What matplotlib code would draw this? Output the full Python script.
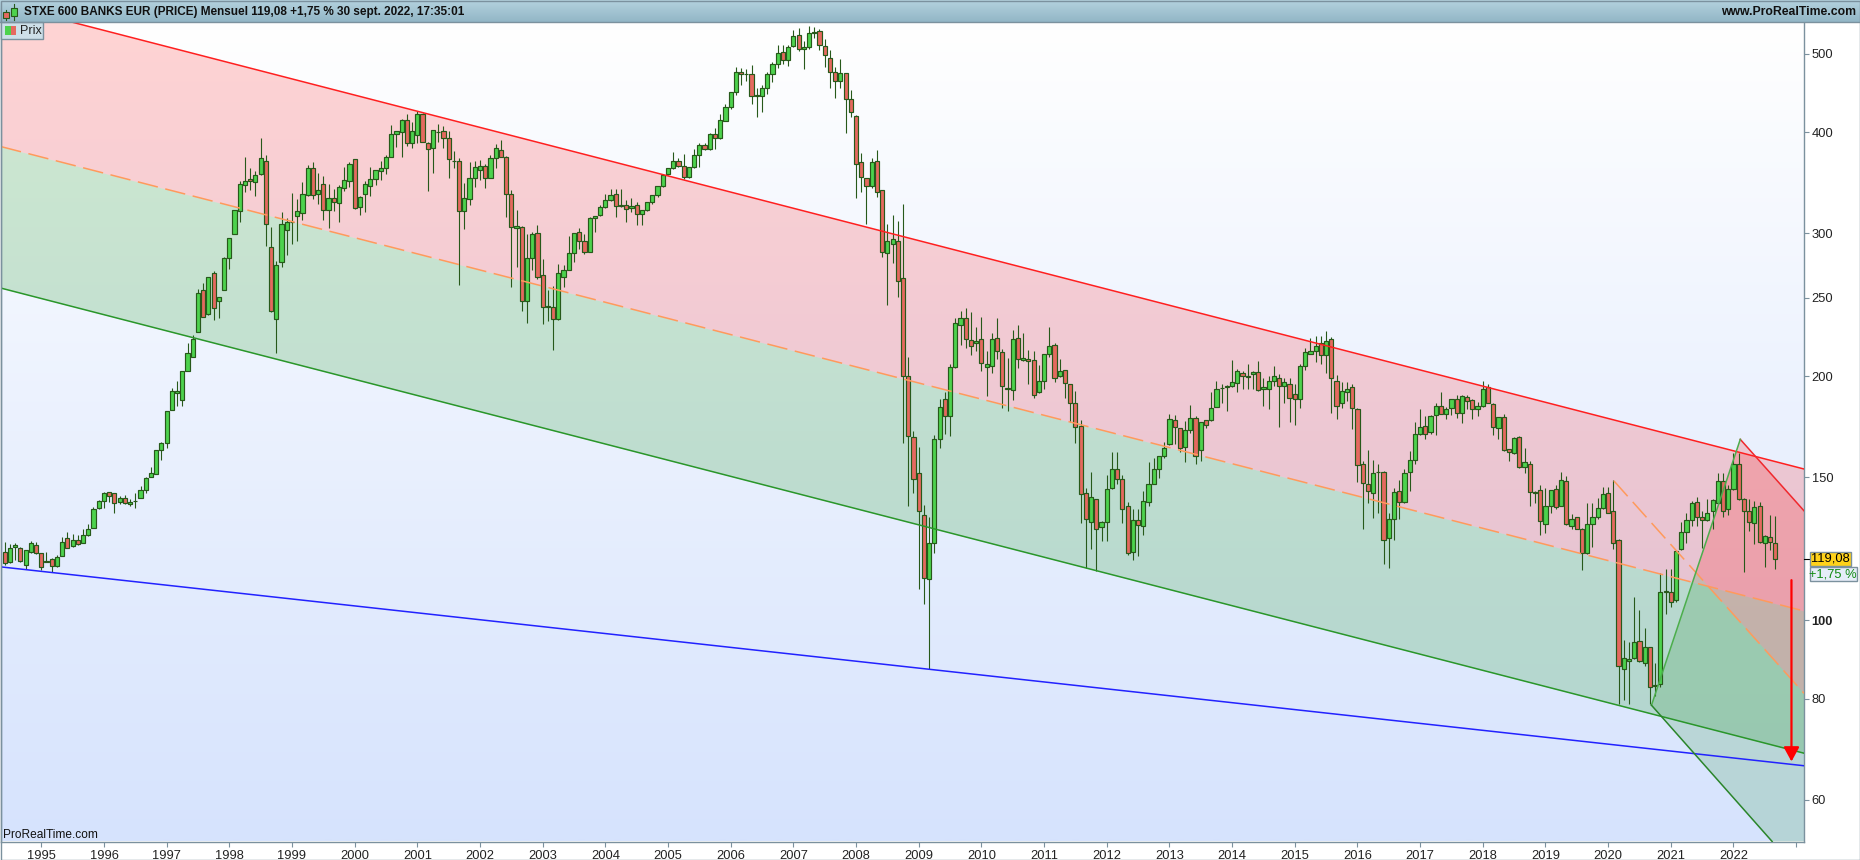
import numpy as np
import matplotlib
matplotlib.use("Agg")
import matplotlib.pyplot as plt
from matplotlib.patches import Rectangle
from matplotlib.ticker import NullFormatter

plt.rcParams['font.family'] = ['Liberation Sans', 'DejaVu Sans']

#==Bougies mensuelles, juin 1994 -> sept. 2022==#
opens = [121.2,118,122.9,122.6,117,121.4,123.6,120.9,118,118.8,
116.6,120,126.1,123.4,125.7,124.6,127.4,130,137.6,140.3,
143.8,143.3,140,141.3,138.9,140.2,141.5,144.6,150.3,151.5,
162.2,165.4,181.8,190.5,187,203,211.3,226.8,255.1,238.9,
268.4,247.5,255.4,279.8,299.6,319.9,344.5,350.6,347,354.9,
368,288.9,235.4,276.5,303,309.5,315.4,318,334.4,360.8,
335.6,344.8,320.8,332.2,327.2,341.4,348.3,370.1,323.3,335.6,
343.4,350.3,358.4,361.5,372.7,397.4,399.7,413.5,387.4,396.3,
421.1,388.4,382,399.7,400.8,392.9,368.5,368,319.3,330.4,
350.7,358.8,363,351.3,372,379.8,373.2,335.1,304.3,305.1,
247.3,280.1,300,266.9,243.9,243.7,235,265.4,270.7,284.1,
301,293.2,284.9,313,316,323,329.4,335.1,323.9,325.6,
322.2,324.8,316.7,320.2,327.6,334.2,342.8,355.3,360.8,368,
363,351.7,362,374.6,386,380.9,397.8,392.9,413,429.8,
447.8,474,472.3,471.2,443.7,443.9,454.1,471.2,486,501.6,
490.5,510.4,526.5,506.1,509.1,530.6,532.6,510.4,493.4,474,
462,473,439,418.5,367,350.7,342.8,368,338.9,284.1,
291.5,294,264,199.8,168.3,151.7,134.6,112.3,124.3,167.1,
187.2,178.4,205.5,231.5,236.2,221.4,219.6,222,205.5,206.1,
222.9,214.3,193.3,192,222.9,209.1,209.7,209.1,190.9,197,
213,218.7,199.8,203.4,195.3,185.1,173.8,143.4,132.3,140.9,
130.1,132.3,145.4,153.8,149.1,138.4,121.2,132.7,130.8,139.9,
147.4,153.8,159.2,164.7,176.4,172.4,163.4,171.4,177.3,161.9,
176.4,176.4,183.3,193.2,194,194.2,196,201.7,199.6,201,
202.2,192.8,193,197.4,199.2,194.2,195.3,190.1,187.2,206.1,
213,214.8,219.6,212.6,222,197,185.5,191,194,182.2,
156,147.4,143.4,152.1,152.5,126.1,133.1,144.3,139.8,152.1,
157.8,169.9,173.8,170.7,179.2,183.5,179.8,182.5,187.2,180.3,
188.3,186.7,182.2,183.5,194,185,172.4,177.9,162.4,160.6,
168.4,154.3,156,143.6,144.5,131.3,138.4,145,138.4,148.3,
130.8,133.9,129.7,120.9,131.5,133.9,137.3,143.4,136.2,125.7,
87,89.1,89.7,94.2,88.4,92.5,82.9,83.5,108.2,108.4,
105.8,122.2,128.6,133,139.8,134.2,133,136.2,139.4,148.3,
137,145,156,141,136.5,131.6,138.4,124.3,126.5,124.3]

highs = [124.7,124.1,124.3,122.9,122,125.1,124.7,121,121.3,119.3,
120.2,126.6,128.4,127.8,127.5,129.4,131.4,137.7,140.6,143.8,
144,143.5,142.3,142.5,141,143.3,146.4,150.1,154.4,162.1,
165.8,181.2,193.6,197.3,203.2,220,224.7,256,260.5,265,
269.4,250.3,280.3,296.1,320.6,348,372.3,360.9,358.5,393.2,
374.6,305.5,277.2,318.7,313.3,336.9,331,346.7,364,367.3,
355.8,353,345,340.2,344,362.1,367.3,370.5,333.5,348,
362.1,359,368.3,374.7,408.6,401.2,415.4,421.7,411.6,424.4,
422.7,388.8,402.3,409.1,407,400.8,379,372,345.7,367.3,
369,370,364.9,374.6,386.4,390.7,373.5,339.2,320.5,306,
299.1,301,307,279.3,255.3,258.7,275,274.6,297.4,300.3,
304.3,299.1,313.9,315.3,325,336,340.8,340.8,339.9,329.7,
331.3,328.1,320.5,327.9,334.5,343.1,355.6,361.1,377.9,372,
375.6,362.3,380.9,388.4,388.4,399,404.2,421.7,433.2,448.1,
480.8,480.3,478,483.9,453,456.8,474,487.7,512.4,512.4,
511.8,534.2,537.3,517.7,540.3,538.8,535.7,520.5,504.7,481.5,
491.8,473.5,450.8,419.8,376.6,351,372.2,380.1,339.2,308.3,
316.4,310.6,326.6,211,171,163.6,138.6,133.9,169.2,187.2,
191,206.9,235.7,240.6,242.4,239.7,229.8,236.9,215,226.2,
236.2,216.3,210.3,227.7,231.1,226.2,215.7,215,206.3,213,
229.8,220,209.7,203.7,195.6,191.6,176.4,145.4,152.1,141.2,
132.6,150.8,161,161,150.8,140,137,137,144.3,156.5,
158.7,159.5,165.7,179.8,179,172.7,176,184.4,178.4,175.7,
176.7,190.9,197,195.7,194.9,209.1,203.9,203,206.9,203,
208.5,198.9,199.8,206.1,201,199.2,198.7,195.3,206.8,216.6,
222.9,224.2,224.2,227.2,223.2,200.4,196.5,196.5,195.3,182.5,
157,161.9,157.8,156,152.8,135.4,145.4,148.7,153.8,161.5,
175.4,182.2,178.7,179.2,185.1,191,183.1,187.5,189.4,189.4,
189.4,187.3,186,197.2,195.3,185.3,178.2,179.8,162.7,168.4,
168.7,162.9,157.3,144.2,146.6,145.4,144.8,146.6,152.1,150.5,
135.1,134.2,130,139.4,139.4,141.5,145.9,145.9,148.7,126,
94.5,93.9,106.9,102.8,97.7,92.7,88.4,114.2,115.5,115.5,
122,132.1,135.4,140.2,141.7,136.5,141,141,151.7,151.7,
146.6,160.6,160.6,141.3,141,140.4,139.8,127.2,134.6,134.4]

lows = [117,117.5,118.6,118,115.5,121.1,120.6,115.3,117.8,114.6,
116.4,119.8,122.6,123.2,123.8,124.4,126.9,129.8,137.1,137.4,
139.9,135.6,139,138.9,138.1,137.6,141.3,143.3,150.1,151.3,
157.5,163,181.6,183.7,183.7,202.8,211,226.5,236.5,237.6,
234.5,235.6,255.2,271,299.3,309.6,337,339.2,333.4,354.6,
289.4,239.7,213.7,273,282.1,291.5,293.5,311.5,333.8,330.4,
326.6,311.5,304.5,319.6,309.7,338.3,341.8,321.3,315.9,319,
333.5,344,349,355,372.4,383.3,372.3,385.1,382,388.4,
388.8,338.5,356.4,389,382,351,361,259,303.7,325,
342.5,348.7,341,350.7,360.8,372.9,314.2,257.5,272.5,240.5,
232.7,270.2,263.4,232.2,233.6,215.5,234.8,257.3,270.5,276.5,
287.4,283.2,284.7,301,315.3,322.7,329,314.5,323.6,310.3,
318.4,307.6,307.6,320,326.5,333,342.5,354.6,360.5,362.7,
349.7,351.4,361.7,362,380.6,380.6,380.9,392.6,412.7,427.8,
444.3,456.7,462.4,433.2,417.2,423.9,445.6,461.5,480.3,486,
482.1,510,503.2,479,506.1,522.8,504.7,481.3,453.5,440.3,
453,398.5,417.7,331.3,337.6,307.9,341.5,332.6,280.6,244.7,
275.9,250.5,165.2,138.3,143.6,109.3,104.7,87,121,163.2,
169.8,168.9,204.8,218.7,216.5,212.5,214.5,203.2,188.9,201.5,
209.7,182.8,180.9,187,204.4,208.9,195.7,187.8,190.6,193,
211.2,196.5,199.5,188.2,175.4,165.4,131.6,115.8,122.2,114.9,
125.2,125.2,145.1,147.4,131.6,120.2,118.5,119.8,127.5,138.4,
147.1,149.9,158.7,164.4,164.7,161,156.5,170.1,155.6,157,
172.4,176.1,183,185.1,181.1,193.9,190.9,193,193,193,
191.5,183.7,182,194.2,173.1,185.1,175.4,174.1,182.7,203.4,
212.7,208,206.8,201.5,180.3,176.8,182.8,186.1,172,148,
129.6,139.4,133.6,135.4,117.4,116.1,125.7,133.4,139.4,144.4,
155.6,169.4,167.4,169.9,169.2,179.5,176.8,178.9,177.3,174.8,
182.2,176.8,178.4,183.2,185.2,169.2,167.4,161.6,157.3,160.3,
154,151.7,138.1,139.4,127.3,128.2,135.4,137.2,138.1,131,
129.7,129.4,115.4,120.6,123.2,133.2,137,135.4,122.2,78.7,
79.7,78.7,89.5,88.8,87.7,78.7,80.7,82.7,101.7,103.8,
105.2,122,124.3,130.5,130.5,122.8,132.4,129.6,139.1,134.1,
134.6,144.7,140.8,114.5,128.9,124.1,124.3,116.3,122,115.7]

closes = [117.5,122.6,123.6,118.4,121.9,124.3,121.1,116.3,118.2,116.6,
119.7,124.7,122.8,125.7,124.2,127.2,129.7,137,140.4,143.3,
142.2,139.4,141.3,139.4,139.9,140.4,144.6,149.9,151.7,161.9,
165.2,180.9,191.5,191.5,202.9,213.3,222,253.6,236.7,264.8,
242.8,250.1,280,295.8,320.2,344.8,347.7,348.3,354.3,371.2,
308.3,240.7,274.6,307.7,309.5,309.8,319.3,336,360.8,334.4,
338.9,320.2,331.3,328.1,341.8,348.7,365.9,322.2,332.9,344.8,
349.7,358.8,360.8,373.2,397.4,400.8,413.5,387.4,400.8,420.7,
389.1,380.9,401.9,400.2,392.9,370.1,368.1,319.3,331.3,350.7,
362,363,350.7,372,382,373.2,335.1,305.1,306,247.3,
280.1,299.1,264.8,243.7,243.5,235,267.7,270.7,284.1,300,
293.2,284.9,313,315,323,329.4,334.2,323.9,325.6,321.1,
323.9,316.7,320.2,327.6,334.2,342.8,354.3,360.8,368,363,
351.7,362,374.6,386,380.9,397.8,392.9,413.5,429.1,447.8,
474,471.2,471.8,443.9,444.1,454.1,471.2,486,500.3,490.5,
509.1,525,506.1,509.1,530.9,531.2,511.8,497.6,474,462,
473,439,423,365.9,351.7,343.7,367,337.6,284.9,293.2,
295,262.4,199.8,168.9,149.1,136.2,112.6,124.3,167.5,183.1,
178.4,205.5,232.3,235.7,222,218,220.9,207.3,206.8,222,
215,194.2,192.9,222,209.7,210.3,208.5,189.4,197,212.7,
218,198.7,203,196,185.1,172.9,143,133.4,141.7,129.7,
132.3,145,153.8,149.1,137,120.9,132.7,131,140.4,147.4,
153.8,159.2,162.9,176.8,172.9,162.9,171.4,177.8,159.5,175.4,
174.3,182.8,193,193.6,194.4,196.5,203,199.8,200,202.2,
192,194,197,199.8,194.2,196.5,188.1,187.2,206.1,214,
215,218,212.3,220.7,198.7,183.5,191.6,192.6,182.8,155.5,
147.7,144.3,151.7,152.5,125.4,133.1,143.8,139.8,151.7,157.8,
169.9,172.9,169.9,178.7,183.5,179.8,182.2,187.2,180.3,188.9,
186.1,182.2,183.5,192.6,185.5,172.9,177.9,161.9,161,167.9,
154.3,156.5,143.8,144,132.4,138.4,144.5,138,148.7,131.3,
133.4,129.7,120.9,131.5,133.9,137.3,143,135.7,124.3,87.7,
89.7,89.5,93.9,89,92.5,82.6,83.1,108.2,108.6,105.2,
121.7,128.6,133,139.4,133.9,132.7,135.7,140.5,148.3,136.5,
145,155.6,141,136.5,132.1,138,124.7,126.9,124.7,119.08]

#==Axes: x en mois depuis juin 1994, y en prix==#
years = list(range(1995, 2024))
year_months = [7 + 12 * n for n in range(len(years))]
year_labels = [str(y) for y in years[:-1]] + ['']
price_ticks = [60, 80, 100, 150, 200, 250, 300, 400, 500]
xmin, xmax = -0.71, 344.5
ymin, ymax = 53.3, 547

#==Canal baissier et droite bleue (début, fin)==#
chan_x = [xmin, xmax]
chan_top = [576, 153.6]
chan_mid = [383.9, 102.6]
chan_low = [256.8, 68.5]
blue_line = [116.3, 66.1]

#==Fourchette de fin de période==#
apex = (332.3, 167.1)
pivot = (315.3, 78.5)
fork_top_end = 136.4
fork_mid_x = [308.1, xmax]
fork_mid = [148.5, 81.2]
fork_cross = (323.8, 114.5)
fork_low_x = 338.4

#==Flèche rouge==#
arrow_x = 342.1
arrow_from, arrow_to = 112.0, 66.9

W, H = 1860, 860
fig = plt.figure(figsize=(W / 100, H / 100), dpi=100, facecolor='white')

#==Fond en dégradé==#
fond = fig.add_axes([0, 0, 1, 1], zorder=0)
top_col = np.array([255, 255, 255]) / 255
bot_col = np.array([214, 227, 253]) / 255
t = np.linspace(0, 1, 256)[:, None, None]
grad = top_col[None, None, :] * (1 - t) + bot_col[None, None, :] * t
fond.imshow(grad, extent=(1, 1804, 841.5, 22), aspect='auto', interpolation='bilinear')
fond.set_xlim(0, W)
fond.set_ylim(H, 0)
fond.axis('off')

#==Graphique==#
ax = fig.add_axes([1 / W, (H - 841.5) / H, 1803 / W, 819.5 / H], zorder=1)
ax.patch.set_visible(False)
ax.set_yscale('log')
ax.set_xlim(xmin, xmax)
ax.set_ylim(ymin, ymax)

ax.fill_between(chan_x, chan_mid, chan_top, color='#ff0000', alpha=0.17, lw=0, zorder=1)
ax.fill_between(chan_x, chan_low, chan_mid, color='#008b00', alpha=0.18, lw=0, zorder=1)

# fourchette: zone rouge au dessus de la médiane, zone verte en dessous
ax.fill([apex[0], xmax, xmax, fork_cross[0]],
        [apex[1], fork_top_end, fork_mid[1], fork_cross[1]],
        color='#ff0000', alpha=0.175, lw=0, zorder=1)
ax.fill([pivot[0], fork_cross[0], xmax, xmax, fork_low_x],
        [pivot[1], fork_cross[1], fork_mid[1], ymin, ymin],
        color='#008000', alpha=0.15, lw=0, zorder=1)

#==Bougies==#
months = np.arange(len(closes))
o = np.array(opens)
c = np.array(closes)
edge = '#27591a'
colors = ['#4dd24d' if c[i] >= o[i] else '#e5695f' for i in months]
ax.vlines(months, lows, highs, color=edge, lw=0.8, zorder=3, snap=True)
ax.bar(months, np.abs(c - o), bottom=np.minimum(o, c), width=0.8, color=colors,
       edgecolor=edge, linewidth=0.85, zorder=4)

#==Droites==#
ax.plot(chan_x, chan_top, color='#ff1f1f', lw=1.1, zorder=5)
ax.plot(chan_x, chan_mid, color='#ff9a5c', lw=1.1, dashes=(13.5, 5), zorder=5)
ax.plot(chan_x, chan_low, color='#2a962a', lw=1.1, zorder=5)
ax.plot(chan_x, blue_line, color='#2222ff', lw=1.1, zorder=5)

ax.plot([apex[0], xmax], [apex[1], fork_top_end], color='#f0282d', lw=1.1, zorder=5)
ax.plot(fork_mid_x, fork_mid, color='#ff9a5c', lw=1.1, dashes=(13.5, 5), zorder=5)
ax.plot([pivot[0], apex[0]], [pivot[1], apex[1]], color='#4cae4c', lw=1.1, zorder=5)
ax.plot([pivot[0], fork_low_x], [pivot[1], ymin], color='#2a852a', lw=1.1, zorder=5)

ax.annotate('', xy=(arrow_x, arrow_to), xytext=(arrow_x, arrow_from),
            arrowprops=dict(arrowstyle='-|>,head_length=0.86,head_width=0.47', color='#ff0000',
                            lw=1.6, mutation_scale=10, shrinkA=0, shrinkB=0), zorder=6)

#==Graduations==#
ax.yaxis.tick_right()
ax.yaxis.set_minor_formatter(NullFormatter())
ax.minorticks_off()
ax.set_yticks(price_ticks)
ax.set_yticklabels([str(p) for p in price_ticks], fontsize=9.3, color='#222222')
ax.get_yticklabels()[price_ticks.index(100)].set_fontweight('bold')
ax.set_xticks(year_months)
ax.set_xticklabels(year_labels, fontsize=9.3, color='#222222')
ax.tick_params(axis='y', length=3.6, width=0.8, color='#7b919e', pad=1.8)
ax.tick_params(axis='x', length=3.6, width=0.8, color='#7b919e', pad=2.6)
ax.tick_params(axis='both', which='minor', length=0)
for s in ax.spines.values():
    s.set_color('#7b919e')
    s.set_linewidth(1.0)
ax.spines['top'].set_visible(False)
ax.plot([1.0, 1.003], [closes[-1], closes[-1]], transform=ax.get_yaxis_transform(),
        color='black', lw=0.8, clip_on=False, zorder=7)

#==Décor: bandeau, légende, étiquettes (coordonnées en pixels)==#
deco = fig.add_axes([0, 0, 1, 1], zorder=2)
deco.patch.set_visible(False)
bar_top = np.array([180, 210, 222]) / 255
bar_bot = np.array([146, 182, 198]) / 255
t2 = np.linspace(0, 1, 64)[:, None, None]
grad2 = bar_top[None, None, :] * (1 - t2) + bar_bot[None, None, :] * t2
deco.imshow(grad2, extent=(0, W, 22, 0), aspect='auto', interpolation='bilinear')
deco.set_xlim(0, W)
deco.set_ylim(H, 0)
deco.axis('off')
border = '#7b919e'
deco.add_patch(Rectangle((0.5, 0.5), W - 1, H - 1, fill=False, ec=border, lw=1.0))
deco.plot([0, W], [21.5, 21.5], color=border, lw=1.0)


def candle_icon(x, y0, y1, w0, w1, face):
    deco.plot([x, x], [w0, w1], color=edge, lw=0.8)
    deco.add_patch(Rectangle((x - 3, y0), 6, y1 - y0, fc=face, ec=edge, lw=0.8, zorder=3))


candle_icon(6.3, 12, 17.5, 9.5, 19.5, '#e5695f')
candle_icon(14, 7.5, 16, 4, 20, '#4dd24d')

deco.text(24, 11.8, 'STXE 600 BANKS EUR (PRICE) Mensuel 119,08 +1,75 % 30 sept. 2022, 17:35:01',
          fontsize=8.45, fontweight='bold', color='#111111', va='center', ha='left')
deco.text(1856.5, 11.8, 'www.ProRealTime.com', fontsize=8.8, fontweight='bold', color='#111111',
          va='center', ha='right')

deco.add_patch(Rectangle((0.5, 22), 42, 17, fc='#cddfe8', ec=border, lw=1.0))
deco.add_patch(Rectangle((5, 26), 6, 9, fc='#4dd24d', ec='none'))
deco.add_patch(Rectangle((11, 26), 5, 9, fc='#e5695f', ec='none'))
deco.text(20, 30.5, 'Prix', fontsize=9, color='#222222', va='center', ha='left')

deco.text(2.5, 835, 'ProRealTime.com', fontsize=8.6, color='#111111', va='center', ha='left')

deco.add_patch(Rectangle((1809.5, 551.5), 41, 14, fc='#ffd21a', ec=border, lw=1.0))
deco.text(1830, 558.8, '119,08', fontsize=9.3, color='black', va='center', ha='center')
deco.add_patch(Rectangle((1809.5, 566.8), 47.5, 14.5, fc='#e6edf8', ec=border, lw=1.0))
deco.text(1833.2, 574.2, '+1,75 %', fontsize=9.3, color='#108a10', va='center', ha='center')

fig.savefig('out.png', dpi=100)
